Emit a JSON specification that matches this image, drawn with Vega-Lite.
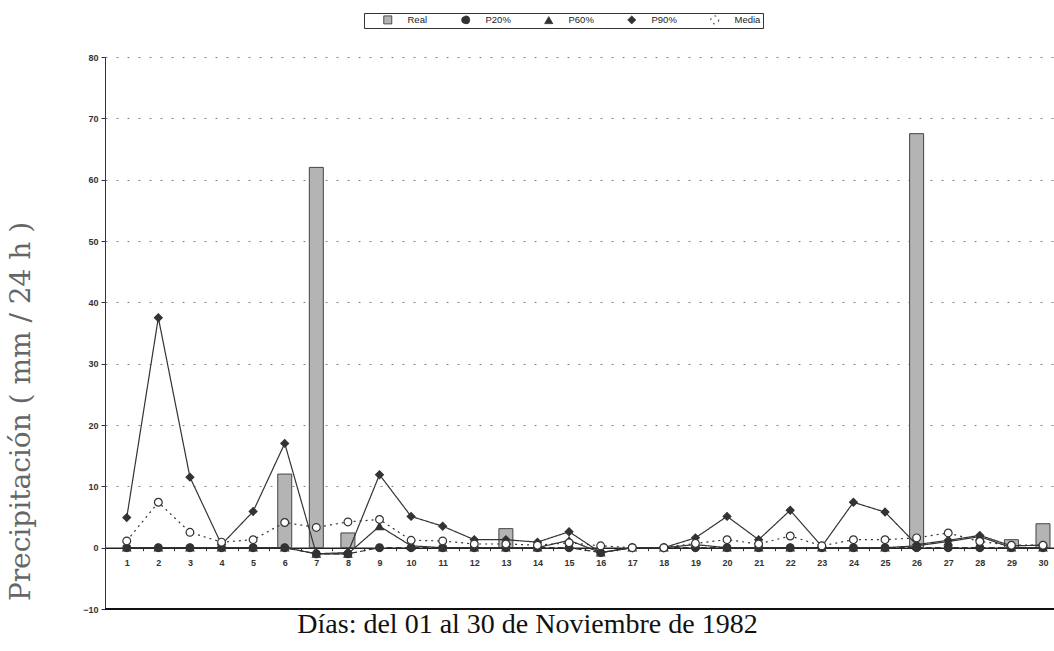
{
  "$schema": "https://vega.github.io/schema/vega-lite/v6.json",
  "width": 949,
  "height": 552,
  "autosize": {"type": "none"},
  "padding": {"left": 105, "top": 57, "right": 0, "bottom": 42},
  "background": "white",
  "config": {
    "view": {"stroke": null},
    "legend": {
      "orient": "none", "legendX": 259, "legendY": -44, "direction": "horizontal",
      "strokeColor": "#333", "padding": 2, "labelFont": "Liberation Sans", "labelFontSize": 9.5,
      "labelColor": "#222", "symbolSize": 64, "columnPadding": 16, "symbolStrokeWidth": 1, "columns": 5,
      "symbolOffset": 17, "labelOffset": 15
    }
  },
  "data": {"values": [
    {"dia": 6, "serie": "Real", "valor": 12},
    {"dia": 7, "serie": "Real", "valor": 62},
    {"dia": 8, "serie": "Real", "valor": 2.4},
    {"dia": 13, "serie": "Real", "valor": 3.1},
    {"dia": 26, "serie": "Real", "valor": 67.5},
    {"dia": 29, "serie": "Real", "valor": 1.3},
    {"dia": 30, "serie": "Real", "valor": 3.9},
    {"dia": 1, "serie": "P20%", "valor": 0}, {"dia": 2, "serie": "P20%", "valor": 0}, {"dia": 3, "serie": "P20%", "valor": 0},
    {"dia": 4, "serie": "P20%", "valor": 0}, {"dia": 5, "serie": "P20%", "valor": 0}, {"dia": 6, "serie": "P20%", "valor": 0},
    {"dia": 7, "serie": "P20%", "valor": -1}, {"dia": 8, "serie": "P20%", "valor": -1}, {"dia": 9, "serie": "P20%", "valor": 0},
    {"dia": 10, "serie": "P20%", "valor": 0}, {"dia": 11, "serie": "P20%", "valor": 0}, {"dia": 12, "serie": "P20%", "valor": 0},
    {"dia": 13, "serie": "P20%", "valor": 0}, {"dia": 14, "serie": "P20%", "valor": 0}, {"dia": 15, "serie": "P20%", "valor": 0},
    {"dia": 16, "serie": "P20%", "valor": -0.8}, {"dia": 17, "serie": "P20%", "valor": 0}, {"dia": 18, "serie": "P20%", "valor": 0},
    {"dia": 19, "serie": "P20%", "valor": 0}, {"dia": 20, "serie": "P20%", "valor": 0}, {"dia": 21, "serie": "P20%", "valor": 0},
    {"dia": 22, "serie": "P20%", "valor": 0}, {"dia": 23, "serie": "P20%", "valor": 0}, {"dia": 24, "serie": "P20%", "valor": 0},
    {"dia": 25, "serie": "P20%", "valor": 0}, {"dia": 26, "serie": "P20%", "valor": 0}, {"dia": 27, "serie": "P20%", "valor": 0},
    {"dia": 28, "serie": "P20%", "valor": 0}, {"dia": 29, "serie": "P20%", "valor": 0}, {"dia": 30, "serie": "P20%", "valor": 0},
    {"dia": 1, "serie": "P60%", "valor": 0}, {"dia": 2, "serie": "P60%", "valor": 0}, {"dia": 3, "serie": "P60%", "valor": 0},
    {"dia": 4, "serie": "P60%", "valor": 0}, {"dia": 5, "serie": "P60%", "valor": 0}, {"dia": 6, "serie": "P60%", "valor": 0},
    {"dia": 7, "serie": "P60%", "valor": -1}, {"dia": 8, "serie": "P60%", "valor": -1}, {"dia": 9, "serie": "P60%", "valor": 3.5},
    {"dia": 10, "serie": "P60%", "valor": 0.3}, {"dia": 11, "serie": "P60%", "valor": 0}, {"dia": 12, "serie": "P60%", "valor": 0},
    {"dia": 13, "serie": "P60%", "valor": 0}, {"dia": 14, "serie": "P60%", "valor": 0}, {"dia": 15, "serie": "P60%", "valor": 1.2},
    {"dia": 16, "serie": "P60%", "valor": -0.8}, {"dia": 17, "serie": "P60%", "valor": 0}, {"dia": 18, "serie": "P60%", "valor": 0},
    {"dia": 19, "serie": "P60%", "valor": 0.5}, {"dia": 20, "serie": "P60%", "valor": 0}, {"dia": 21, "serie": "P60%", "valor": 0},
    {"dia": 22, "serie": "P60%", "valor": 0}, {"dia": 23, "serie": "P60%", "valor": 0}, {"dia": 24, "serie": "P60%", "valor": 0},
    {"dia": 25, "serie": "P60%", "valor": 0}, {"dia": 26, "serie": "P60%", "valor": 0.3}, {"dia": 27, "serie": "P60%", "valor": 1.0},
    {"dia": 28, "serie": "P60%", "valor": 1.8}, {"dia": 29, "serie": "P60%", "valor": 0}, {"dia": 30, "serie": "P60%", "valor": 0},
    {"dia": 1, "serie": "P90%", "valor": 4.9}, {"dia": 2, "serie": "P90%", "valor": 37.5}, {"dia": 3, "serie": "P90%", "valor": 11.5},
    {"dia": 4, "serie": "P90%", "valor": 0.5}, {"dia": 5, "serie": "P90%", "valor": 5.9}, {"dia": 6, "serie": "P90%", "valor": 17},
    {"dia": 7, "serie": "P90%", "valor": -1}, {"dia": 8, "serie": "P90%", "valor": -0.8}, {"dia": 9, "serie": "P90%", "valor": 11.9},
    {"dia": 10, "serie": "P90%", "valor": 5.1}, {"dia": 11, "serie": "P90%", "valor": 3.5}, {"dia": 12, "serie": "P90%", "valor": 1.3},
    {"dia": 13, "serie": "P90%", "valor": 1.3}, {"dia": 14, "serie": "P90%", "valor": 0.9}, {"dia": 15, "serie": "P90%", "valor": 2.6},
    {"dia": 16, "serie": "P90%", "valor": -0.8}, {"dia": 17, "serie": "P90%", "valor": 0}, {"dia": 18, "serie": "P90%", "valor": 0},
    {"dia": 19, "serie": "P90%", "valor": 1.6}, {"dia": 20, "serie": "P90%", "valor": 5.1}, {"dia": 21, "serie": "P90%", "valor": 1.3},
    {"dia": 22, "serie": "P90%", "valor": 6.1}, {"dia": 23, "serie": "P90%", "valor": 0.2}, {"dia": 24, "serie": "P90%", "valor": 7.4},
    {"dia": 25, "serie": "P90%", "valor": 5.8}, {"dia": 26, "serie": "P90%", "valor": 0.5}, {"dia": 27, "serie": "P90%", "valor": 1.2},
    {"dia": 28, "serie": "P90%", "valor": 2.0}, {"dia": 29, "serie": "P90%", "valor": 0.3}, {"dia": 30, "serie": "P90%", "valor": 0.4},
    {"dia": 1, "serie": "Media", "valor": 1.1}, {"dia": 2, "serie": "Media", "valor": 7.4}, {"dia": 3, "serie": "Media", "valor": 2.5},
    {"dia": 4, "serie": "Media", "valor": 0.9}, {"dia": 5, "serie": "Media", "valor": 1.3}, {"dia": 6, "serie": "Media", "valor": 4.1},
    {"dia": 7, "serie": "Media", "valor": 3.3}, {"dia": 8, "serie": "Media", "valor": 4.2}, {"dia": 9, "serie": "Media", "valor": 4.6},
    {"dia": 10, "serie": "Media", "valor": 1.2}, {"dia": 11, "serie": "Media", "valor": 1.1}, {"dia": 12, "serie": "Media", "valor": 0.6},
    {"dia": 13, "serie": "Media", "valor": 0.6}, {"dia": 14, "serie": "Media", "valor": 0.4}, {"dia": 15, "serie": "Media", "valor": 0.8},
    {"dia": 16, "serie": "Media", "valor": 0.3}, {"dia": 17, "serie": "Media", "valor": 0}, {"dia": 18, "serie": "Media", "valor": 0},
    {"dia": 19, "serie": "Media", "valor": 0.7}, {"dia": 20, "serie": "Media", "valor": 1.3}, {"dia": 21, "serie": "Media", "valor": 0.6},
    {"dia": 22, "serie": "Media", "valor": 1.9}, {"dia": 23, "serie": "Media", "valor": 0.3}, {"dia": 24, "serie": "Media", "valor": 1.3},
    {"dia": 25, "serie": "Media", "valor": 1.3}, {"dia": 26, "serie": "Media", "valor": 1.6}, {"dia": 27, "serie": "Media", "valor": 2.4},
    {"dia": 28, "serie": "Media", "valor": 1.0}, {"dia": 29, "serie": "Media", "valor": 0.4}, {"dia": 30, "serie": "Media", "valor": 0.4}
  ]},
  "encoding": {
    "x": {
      "field": "dia", "type": "quantitative",
      "scale": {"domain": [0.47, 30.19], "nice": false, "zero": false},
      "axis": {
        "values": [1,2,3,4,5,6,7,8,9,10,11,12,13,14,15,16,17,18,19,20,21,22,23,24,25,26,27,28,29,30],
        "offset": -61.3, "grid": false,
        "domainColor": "#222", "domainWidth": 1.5,
        "tickColor": "#333", "tickSize": 3, "tickOffset": 16, "labelOffset": -16,
        "labelFont": "Liberation Sans", "labelFontSize": 9, "labelFontWeight": "bold", "labelColor": "#333",
        "labelPadding": 8,
        "title": "Días: del 01 al 30 de Noviembre de 1982",
        "titleFont": "Liberation Serif", "titleFontSize": 28, "titleFontWeight": "normal", "titleColor": "#111",
        "titleX": 422, "titleY": 77, "titleAlign": "center", "titleBaseline": "middle"
      }
    },
    "y": {
      "field": "valor", "type": "quantitative",
      "scale": {"domain": [-10, 80], "nice": false, "zero": false},
      "axis": {
        "values": [-10, 0, 10, 20, 30, 40, 50, 60, 70, 80],
        "grid": true, "gridDash": [2, 9], "gridColor": "#666", "gridOpacity": 0.8,
        "domainColor": "#333", "tickColor": "#333", "tickSize": 4,
        "labelFont": "Liberation Sans", "labelFontSize": 9, "labelFontWeight": "bold", "labelColor": "#333",
        "labelPadding": 3,
        "title": "Precipitación ( mm / 24 h )",
        "titleFont": "DejaVu Serif", "titleFontSize": 28, "titleFontWeight": "normal", "titleColor": "#666",
        "titleX": -84, "titleY": 354, "titleAngle": -90, "titleAlign": "center", "titleBaseline": "middle"
      }
    }
  },
  "layer": [
    {
      "transform": [{"filter": "datum.serie === 'Real'"}],
      "mark": {"type": "bar", "width": 14, "stroke": "#444", "strokeWidth": 1, "clip": true},
      "encoding": {
        "fill": {"field": "serie", "type": "nominal", "title": null,
          "scale": {"domain": ["Real", "P20%", "P60%", "P90%", "Media"], "range": ["#b4b4b4", "#333", "#333", "#333", "#ffffff"]},
          "legend": {
            "encode": {
              "symbols": {
                "shape": {"value": {"signal": "datum.value === 'Real' ? 'M-4.75,-0.9H4.75V0.9H-4.75Z' : datum.value === 'P20%' ? 'M-5,0H-0.8M0.8,0H5M-0.8,0A0.8,0.8 0 1,0 0.8,0A0.8,0.8 0 1,0 -0.8,0Z' : datum.value === 'P60%' ? 'M-5,0.2H-0.9M0.9,0.2H5M0,-0.9L0.9,0.7H-0.9Z' : datum.value === 'P90%' ? 'M-5,0H-0.8M0.8,0H5M0,-0.8L0.8,0L0,0.8L-0.8,0Z' : 'M-5,0H-1M1,0H5M-0.9,0A0.9,0.9 0 1,0 0.9,0A0.9,0.9 0 1,0 -0.9,0Z'"}}
              }
            }
          }
        }
      }
    },
    {
      "transform": [{"filter": "datum.serie !== 'Real'"}],
      "mark": {"type": "line", "strokeWidth": 1.2, "clip": true},
      "encoding": {
        "stroke": {"field": "serie", "type": "nominal", "title": null,
          "scale": {"domain": ["Real", "P20%", "P60%", "P90%", "Media"], "range": ["#444", "#333", "#333", "#333", "#333"]}},
        "strokeDash": {"field": "serie", "type": "nominal", "title": null,
          "scale": {"domain": ["Real", "P20%", "P60%", "P90%", "Media"], "range": [[1, 0], [6, 3], [1, 0], [1, 0], [2, 4]]}},
        "detail": {"field": "serie"}
      }
    },
    {
      "transform": [{"filter": "datum.serie !== 'Real'"}],
      "mark": {"type": "point", "filled": false, "strokeWidth": 1.2, "size": 60, "opacity": 1, "clip": true},
      "encoding": {
        "shape": {"field": "serie", "type": "nominal", "legend": null,
          "scale": {"domain": ["Real", "P20%", "P60%", "P90%", "Media"], "range": ["square", "circle", "triangle-up", "diamond", "circle"]}},
        "fill": {"field": "serie", "type": "nominal", "title": null},
        "stroke": {"field": "serie", "type": "nominal", "title": null}
      }
    },
    {
      "data": {"values": [{"base": -10}]},
      "mark": {"type": "rule", "stroke": "#111", "strokeWidth": 2},
      "encoding": {"y": {"field": "base", "type": "quantitative"}, "x": null}
    }
  ]
}
